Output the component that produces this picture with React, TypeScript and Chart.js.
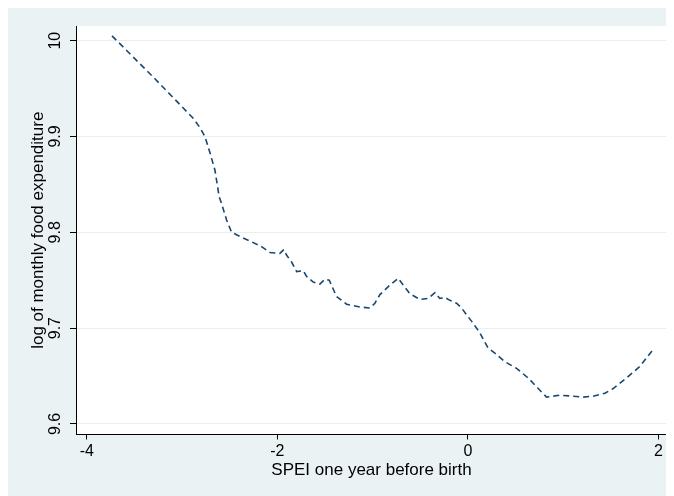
import React, { useEffect, useRef } from "react";
import { Chart, registerables } from "chart.js";

Chart.register(...registerables);

const xValues = [
  -3.735, -3.302, -2.883, -2.81, -2.76, -2.707, -2.655, -2.61, -2.585, -2.533, -2.48,
  -2.358, -2.288, -2.165, -2.078, -1.973, -1.931, -1.902, -1.85, -1.797, -1.728,
  -1.693, -1.623, -1.553, -1.5, -1.455, -1.378, -1.273, -1.133, -1.028, -0.976,
  -0.923, -0.818, -0.731, -0.679, -0.609, -0.504, -0.416, -0.346, -0.294, -0.241,
  -0.189, -0.119, -0.066, -0.014, 0.056, 0.126, 0.213, 0.283, 0.388, 0.511, 0.633,
  0.738, 0.826, 0.965, 1.105, 1.21, 1.315, 1.438, 1.525, 1.665, 1.805, 1.938,
];
const yValues = [
  10.005, 9.962, 9.919, 9.909, 9.9, 9.883, 9.865, 9.837, 9.83, 9.813, 9.8,
  9.794, 9.791, 9.785, 9.779, 9.778, 9.782, 9.776, 9.769, 9.759, 9.76,
  9.754, 9.748, 9.746, 9.751, 9.75, 9.733, 9.725, 9.722, 9.721, 9.726,
  9.735, 9.745, 9.752, 9.745, 9.736, 9.73, 9.731, 9.737, 9.731, 9.732,
  9.729, 9.726, 9.721, 9.714, 9.705, 9.695, 9.679, 9.674, 9.665, 9.658, 9.648,
  9.637, 9.628, 9.63, 9.629, 9.628, 9.629, 9.632, 9.637, 9.648, 9.66, 9.677,
];
const xTicks = [-4, -2, 0, 2];
const yTicks = [9.6, 9.7, 9.8, 9.9, 10];
const xTitle = "SPEI one year before birth";
const yTitle = "log of monthly food expenditure";

const FONT = "'Liberation Sans', Arial, Helvetica, sans-serif";

export default function App() {
  const ref = useRef<HTMLCanvasElement | null>(null);
  useEffect(() => {
    if (!ref.current) return;
    const plotBg = {
      id: "plotBg",
      beforeDraw(chart: any) {
        const { ctx, chartArea: a } = chart;
        ctx.save();
        ctx.fillStyle = "#ffffff";
        ctx.fillRect(a.left, a.top, a.right - a.left, a.bottom - a.top);
        ctx.restore();
      },
    };
    const yLabels = {
      id: "yLabels",
      afterDraw(chart: any) {
        const { ctx } = chart;
        const ys = chart.scales.y;
        ctx.save();
        ctx.fillStyle = "#000";
        ctx.font = `16px ${FONT}`;
        ctx.textAlign = "center";
        ctx.textBaseline = "middle";
        yTicks.forEach((v) => {
          const py = ys.getPixelForValue(v);
          ctx.save();
          ctx.translate(ys.right - 20, py);
          ctx.rotate(-Math.PI / 2);
          ctx.fillText(String(v), 0, 0);
          ctx.restore();
        });
        ctx.restore();
      },
    };
    const chart = new Chart(ref.current, {
      type: "line",
      data: {
        datasets: [
          {
            data: xValues.map((x, i) => ({ x, y: yValues[i] })),
            borderColor: "#1A476F",
            borderWidth: 1.6,
            borderDash: [6, 4],
            pointRadius: 0,
            tension: 0,
            fill: false,
          },
        ],
      },
      options: {
        animation: false,
        responsive: true,
        maintainAspectRatio: false,
        layout: { padding: { top: 18, right: 7, left: 0, bottom: 0 } },
        plugins: { legend: { display: false }, tooltip: { enabled: false } },
        scales: {
          x: {
            type: "linear",
            min: -4.113,
            max: 2.09,
            afterBuildTicks: (s: any) => {
              s.ticks = xTicks.map((v) => ({ value: v }));
            },
            afterFit: (s: any) => {
              s.height = 61.5;
            },
            grid: {
              drawOnChartArea: false,
              drawTicks: true,
              tickLength: 5,
              tickColor: "#000",
            },
            border: { color: "#000", width: 1 },
            ticks: {
              color: "#000",
              font: { family: FONT, size: 16 },
              padding: 2,
              maxRotation: 0,
              callback: (v: any) => String(v),
            },
            title: {
              display: true,
              text: xTitle,
              color: "#000",
              font: { family: FONT, size: 17 },
              padding: { top: 0, bottom: 15 },
            },
          },
          y: {
            type: "linear",
            min: 9.589,
            max: 10.0153,
            afterBuildTicks: (s: any) => {
              s.ticks = yTicks.map((v) => ({ value: v }));
            },
            afterFit: (s: any) => {
              s.width = 68;
            },
            grid: {
              color: "#E8EFF1",
              lineWidth: 1,
              drawTicks: true,
              tickLength: 6,
              tickColor: "#000",
            },
            border: { color: "#000", width: 1 },
            ticks: { display: false },
            title: {
              display: true,
              text: yTitle,
              color: "#000",
              font: { family: FONT, size: 17 },
              padding: { top: 20, bottom: 0 },
            },
          },
        },
      },
      plugins: [plotBg, yLabels],
    });
    return () => chart.destroy();
  }, []);
  return (
    <div style={{ width: 666, height: 488, background: "#EAF2F3", position: "relative" }}>
      <canvas ref={ref} />
    </div>
  );
}
